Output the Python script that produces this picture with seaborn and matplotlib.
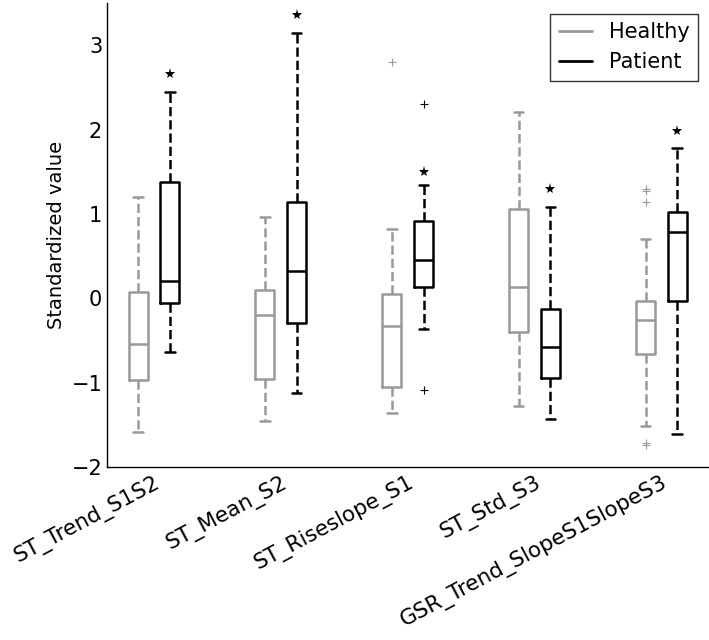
import pandas as pd
import matplotlib
matplotlib.use("Agg")
import matplotlib.pyplot as plt
from matplotlib.lines import Line2D
import seaborn as sns

features = ["ST_Trend_S1S2", "ST_Mean_S2", "ST_Riseslope_S1", "ST_Std_S3",
            "GSR_Trend_SlopeS1SlopeS3"]

# box summaries (whisker ends, quartiles, median)
healthy_lo = [-1.58, -1.45, -1.36, -1.28, -1.51]
healthy_q1 = [-0.97, -0.95, -1.05, -0.40, -0.66]
healthy_med = [-0.54, -0.19, -0.33, 0.14, -0.25]
healthy_q3 = [0.08, 0.10, 0.05, 1.06, -0.03]
healthy_hi = [1.20, 0.97, 0.82, 2.21, 0.70]
healthy_out = [[], [], [2.80], [], [1.30, 1.27, 1.14, -1.71, -1.74]]

patient_lo = [-0.64, -1.12, -0.36, -1.43, -1.61]
patient_q1 = [-0.05, -0.29, 0.14, -0.94, -0.03]
patient_med = [0.21, 0.32, 0.46, -0.57, 0.79]
patient_q3 = [1.38, 1.14, 0.92, -0.13, 1.03]
patient_hi = [2.45, 3.15, 1.35, 1.08, 1.78]
patient_out = [[], [], [2.30, -1.08], [], []]

# significance stars above patient boxes
star_y = [2.66, 3.36, 1.50, 1.30, 1.98]

groups = ["Healthy", "Patient"]
colors = {"Healthy": "#999999", "Patient": "#000000"}

# long-form table: quartile values repeated so the box stats come out as read
rows = []
summaries = {
    "Healthy": (healthy_lo, healthy_q1, healthy_med, healthy_q3, healthy_hi, healthy_out),
    "Patient": (patient_lo, patient_q1, patient_med, patient_q3, patient_hi, patient_out),
}
for g, (lo, q1, med, q3, hi, out) in summaries.items():
    for i, f in enumerate(features):
        vals = [lo[i]] + [q1[i]] * 10 + [med[i]] * 10 + [q3[i]] * 10 + [hi[i]] + out[i]
        for v in vals:
            rows.append({"feature": f, "group": g, "value": v})
df = pd.DataFrame(rows)

stars = pd.DataFrame({"feature": features, "group": "Patient", "value": star_y})

sns.set_style("white")
plt.rcParams["font.family"] = ["DejaVu Sans"]
plt.rcParams["text.color"] = "black"
plt.rcParams["axes.labelcolor"] = "black"
plt.rcParams["xtick.color"] = "black"
plt.rcParams["ytick.color"] = "black"

fig = plt.figure(figsize=(7.09, 6.4), dpi=100)
ax = fig.add_axes([0.151, 0.270, 0.848, 0.725])

sns.boxplot(data=df, x="feature", y="value", hue="group", order=features,
            hue_order=groups, palette=colors, fill=False, width=0.5, gap=0.4,
            linewidth=1.8, legend=False, ax=ax,
            whiskerprops={"linestyle": "--"},
            flierprops={"marker": "+", "markersize": 6, "markeredgewidth": 0.8})

sns.pointplot(data=stars, x="feature", y="value", hue="group", order=features,
              hue_order=groups, palette=colors, dodge=0.25, markers="*",
              linestyle="none", markersize=8, markeredgewidth=0,
              errorbar=None, legend=False, ax=ax)

ax.set_xlim(-0.37, 4.37)
ax.set_ylim(-2, 3.5)
ax.set_yticks([-2, -1, 0, 1, 2, 3])
ax.set_xlabel("")
ax.set_ylabel("Standardized value", fontsize=14)
sns.despine(ax=ax)
for s in ["left", "bottom"]:
    ax.spines[s].set_color("black")
    ax.spines[s].set_linewidth(1.0)
ax.tick_params(direction="in", length=4, width=0.8, labelsize=15, color="black")
ax.set_xticks(range(len(features)))
ax.set_xticklabels(features, rotation=28, ha="right", rotation_mode="anchor",
                   fontsize=15.5)

handles = [Line2D([], [], color=colors[g], lw=2) for g in groups]
leg = ax.legend(handles, groups, loc="upper right", fontsize=15, frameon=True,
                fancybox=False, handlelength=1.6, borderaxespad=0.5)
leg.get_frame().set_edgecolor("black")
leg.get_frame().set_linewidth(1.0)

fig.savefig("out.png", dpi=100)
